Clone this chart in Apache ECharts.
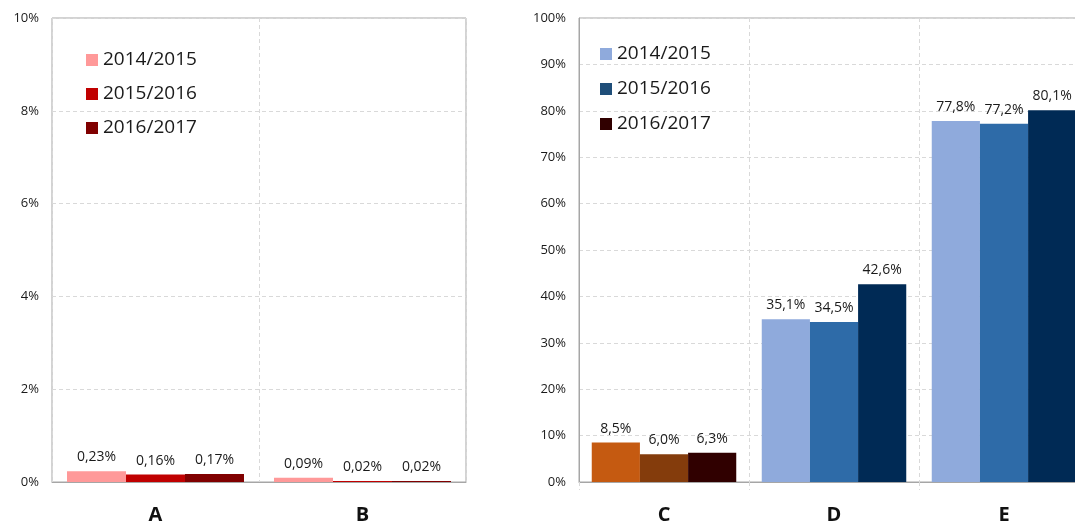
<!DOCTYPE html>
<html>
<head>
<meta charset="utf-8">
<script src="https://cdn.jsdelivr.net/npm/echarts@6/dist/echarts.min.js"></script>
<style>
  html, body { margin: 0; padding: 0; background: #fff; }
  #chart { width: 1075px; height: 526px; }
</style>
</head>
<body>
<div id="chart"></div>
<script>
// data
const years = ['2014/2015', '2015/2016', '2016/2017']
const leftCats = ['A', 'B']
const rightCats = ['C', 'D', 'E']
const leftValues = [
  [0.23, 0.09],
  [0.16, 0.02],
  [0.17, 0.02]
]
const rightValues = [
  [8.5, 35.1, 77.8],
  [6.0, 34.5, 77.2],
  [6.3, 42.6, 80.1]
]
const leftTicks = [0, 2, 4, 6, 8, 10]
const rightTicks = [0, 10, 20, 30, 40, 50, 60, 70, 80, 90, 100]

// colours
const leftColors = ['#FF9999', '#C00000', '#800000']
const rightColors = ['#8FAADC', '#2E6BA8', '#002A55']
const cColors = ['#C55A11', '#843C0C', '#300000']
const rightLegendColors = ['#8FAADC', '#1F4E79', '#300000']

const font = 'Open Sans'
const gridLine = { show: true, lineStyle: { color: '#d9d9d9', type: [4, 3], width: 1 } }

const fmt = (v, d) => v.toFixed(d).replace('.', ',') + '%'

const chart = echarts.init(document.getElementById('chart'))

const series = []
years.forEach((y, i) => {
  series.push({
    name: y,
    type: 'bar',
    xAxisIndex: 0,
    yAxisIndex: 0,
    barGap: '0%',
    barCategoryGap: '14.5%',
    itemStyle: { color: leftColors[i] },
    label: {
      show: true,
      position: 'top',
      distance: 7,
      fontFamily: font,
      fontSize: 14,
      color: '#1a1a1a',
      formatter: p => fmt(p.value, 2)
    },
    data: leftValues[i]
  })
})
years.forEach((y, i) => {
  series.push({
    name: y,
    type: 'bar',
    xAxisIndex: 1,
    yAxisIndex: 1,
    barGap: '0%',
    barCategoryGap: '15%',
    itemStyle: { color: rightColors[i] },
    label: {
      show: true,
      position: 'top',
      distance: 7,
      fontFamily: font,
      fontSize: 14,
      color: '#1a1a1a',
      formatter: p => fmt(p.value, 1)
    },
    data: rightValues[i].map((v, j) => j === 0 ? { value: v, itemStyle: { color: cColors[i] } } : v)
  })
})

const legendText = { fontFamily: font, fontSize: 19, color: '#1a1a1a', lineHeight: 22 }

chart.setOption({
  animation: false,
  legend: [
    {
      orient: 'vertical', left: 81, top: 44,
      icon: 'rect', itemWidth: 12, itemHeight: 12, itemGap: 12,
      textStyle: legendText, selectedMode: false,
      data: years.map((y, i) => ({ name: y, itemStyle: { color: leftColors[i] } }))
    },
    {
      orient: 'vertical', left: 595, top: 38,
      icon: 'rect', itemWidth: 12, itemHeight: 12, itemGap: 13,
      textStyle: legendText, selectedMode: false,
      data: years.map((y, i) => ({ name: y, itemStyle: { color: rightLegendColors[i] } }))
    }
  ],
  grid: [
    { left: 52, top: 18, width: 414, height: 464, outerBoundsMode: 'none', show: true, borderColor: '#a6a6a6', borderWidth: 1 },
    { left: 579, top: 18, width: 510, height: 464, outerBoundsMode: 'none', show: true, borderColor: '#a6a6a6', borderWidth: 1 }
  ],
  xAxis: [
    {
      type: 'category', gridIndex: 0, data: leftCats,
      axisLine: { lineStyle: { color: '#a6a6a6' } },
      axisTick: { show: false },
      axisLabel: { fontFamily: font, fontSize: 20, fontWeight: 'bold', color: '#111', margin: 23 },
      splitLine: gridLine
    },
    {
      type: 'category', gridIndex: 1, data: rightCats,
      axisLine: { lineStyle: { color: '#a6a6a6' } },
      axisTick: { show: true, length: 8, lineStyle: { color: '#d9d9d9', type: [4, 3] } },
      axisLabel: { fontFamily: font, fontSize: 20, fontWeight: 'bold', color: '#111', margin: 23 },
      splitLine: gridLine
    }
  ],
  yAxis: [
    {
      type: 'value', gridIndex: 0, min: leftTicks[0], max: leftTicks[leftTicks.length - 1], interval: 2,
      axisLine: { show: false }, axisTick: { show: false },
      axisLabel: { fontFamily: font, fontSize: 13, color: '#1a1a1a', margin: 13, formatter: v => v + '%' },
      splitLine: gridLine
    },
    {
      type: 'value', gridIndex: 1, min: rightTicks[0], max: rightTicks[rightTicks.length - 1], interval: 10,
      axisLine: { show: true, lineStyle: { color: '#a6a6a6' } }, axisTick: { show: false },
      axisLabel: { fontFamily: font, fontSize: 13, color: '#1a1a1a', margin: 13, formatter: v => v + '%' },
      splitLine: gridLine
    }
  ],
  series: series
})
</script>
</body>
</html>
